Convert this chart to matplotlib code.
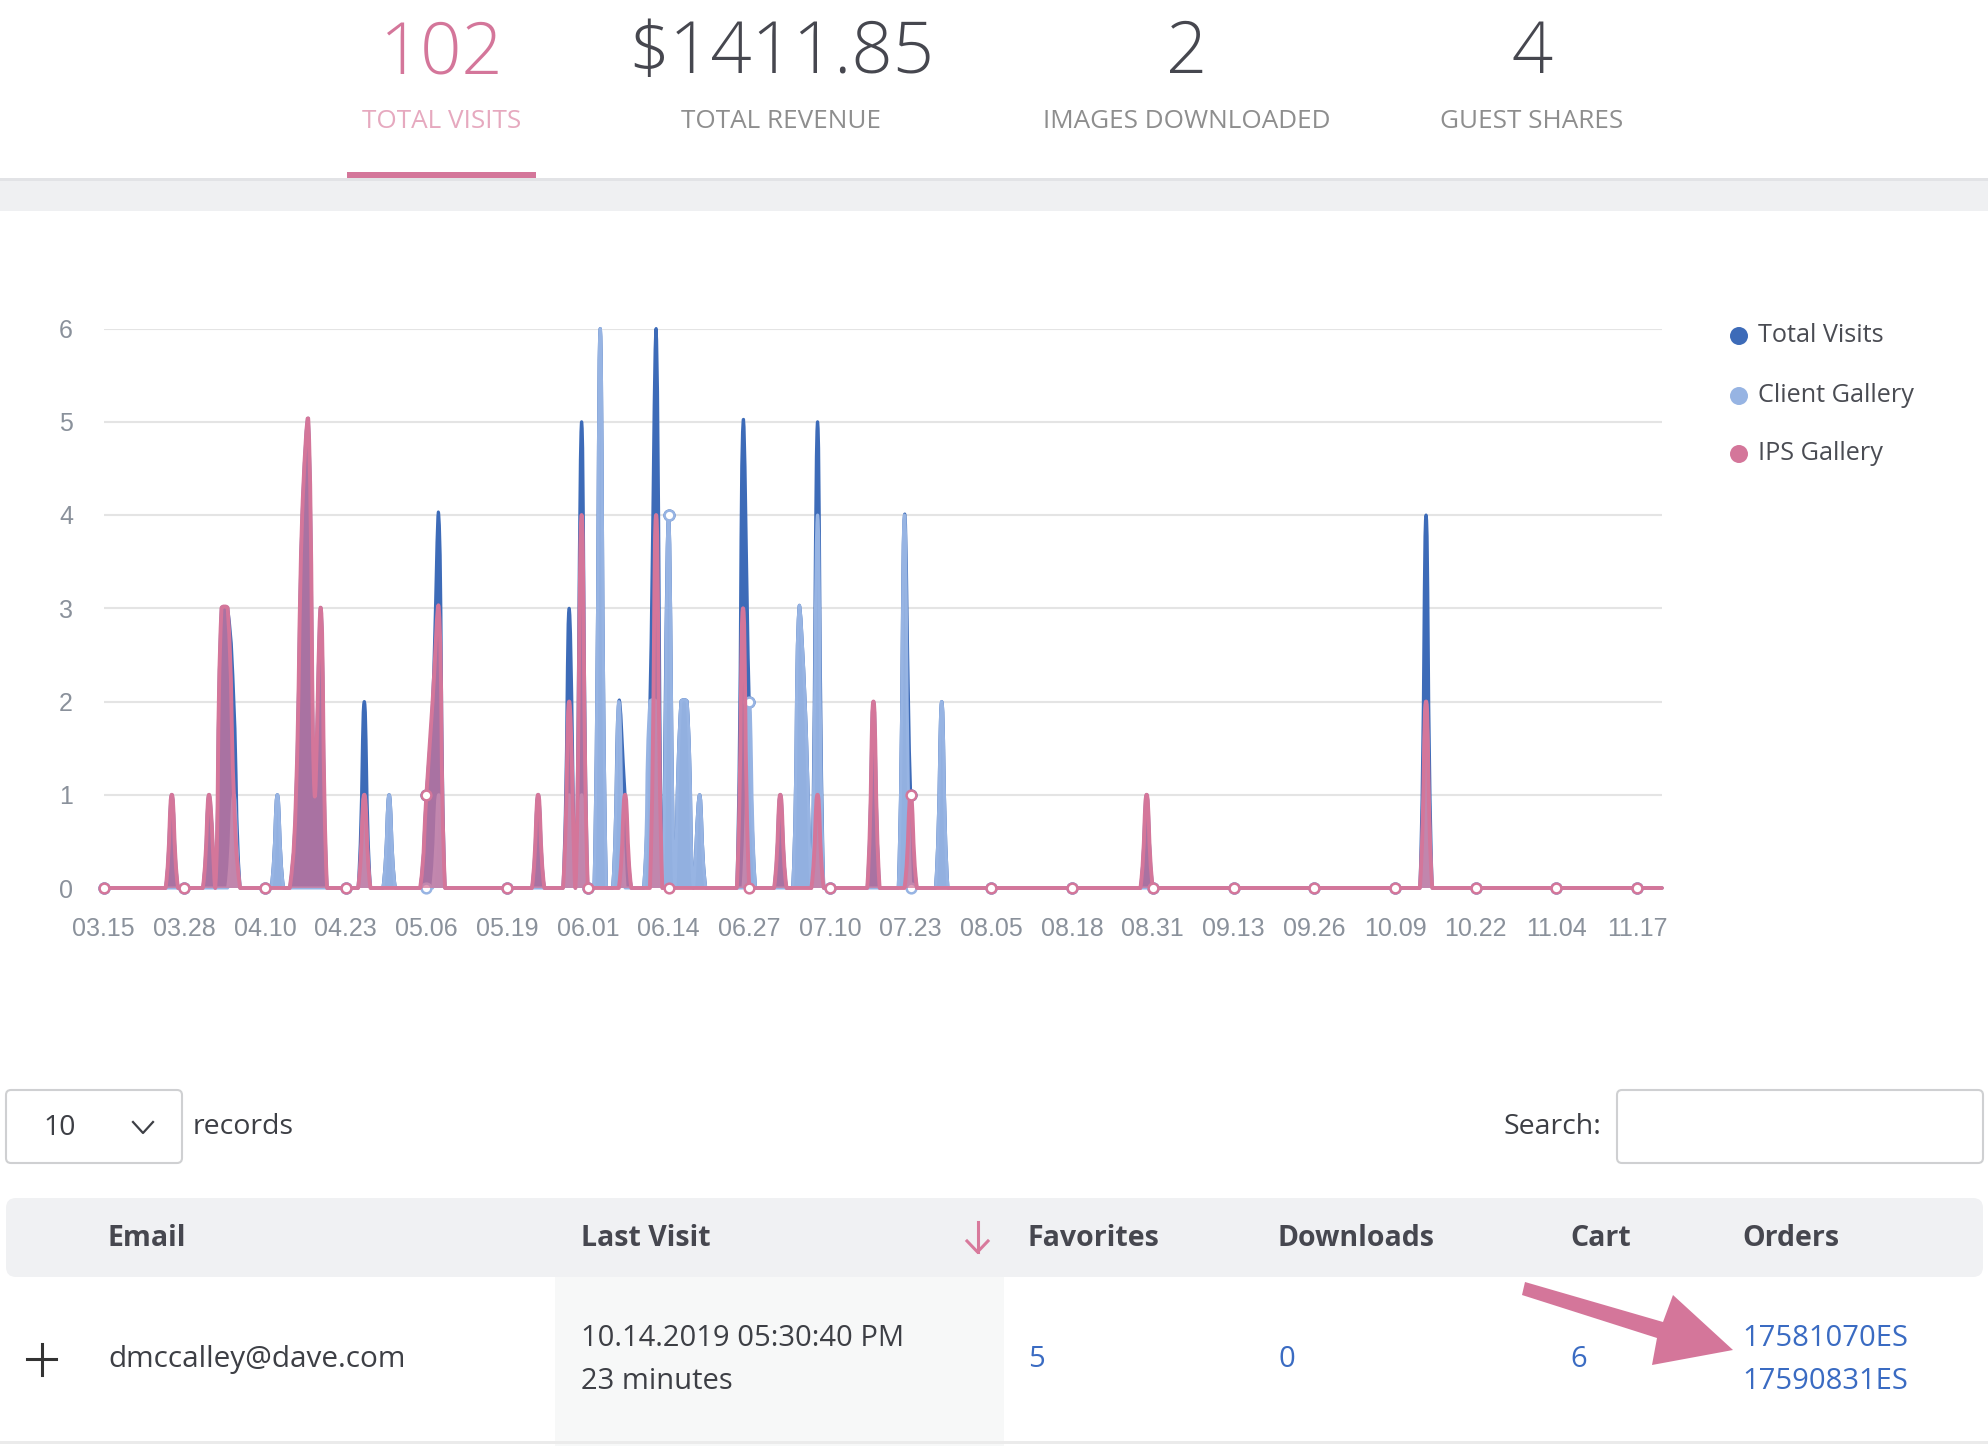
import numpy as np
import pandas as pd
import matplotlib
matplotlib.use('Agg')
import matplotlib.pyplot as plt
from matplotlib.path import Path
from matplotlib.patches import PathPatch, Rectangle, FancyBboxPatch, Polygon, Circle

# --- data (daily visits, only non-zero days listed) ---
start_date = '03.15'
end_date = '11.21'

total_dates = ['03.26', '04.01', '04.03', '04.04', '04.05', '04.12', '04.15', '04.16',
               '04.17', '04.18', '04.19', '04.26', '04.30', '05.06', '05.07', '05.08',
               '05.24', '05.29', '05.31', '06.03', '06.06', '06.07', '06.11', '06.12',
               '06.14', '06.16', '06.17', '06.19', '06.26', '06.27', '07.02', '07.05',
               '07.06', '07.08', '07.17', '07.22', '07.23', '07.28', '08.30', '10.14']
total_vals = [1, 1, 3, 3, 2, 1, 1, 4,
              5, 1, 3, 2, 1, 1, 2, 4,
              1, 3, 5, 6, 2, 1, 2, 6,
              4, 2, 2, 1, 5, 2, 1, 3,
              2, 5, 2, 4, 1, 2, 1, 4]

client_dates = ['04.05', '04.12', '04.26', '04.30', '05.08', '05.29', '05.31', '06.03',
                '06.06', '06.11', '06.12', '06.14', '06.16', '06.17', '06.19', '06.27',
                '07.05', '07.06', '07.08', '07.22', '07.28', '10.14']
client_vals = [1, 1, 1, 1, 1, 1, 1, 6,
               2, 2, 2, 4, 2, 2, 1, 2,
               3, 2, 4, 4, 2, 2]

ips_dates = ['03.26', '04.01', '04.03', '04.04', '04.05', '04.15', '04.16', '04.17',
             '04.18', '04.19', '04.26', '05.06', '05.07', '05.08', '05.24', '05.29',
             '05.31', '06.07', '06.12', '06.26', '07.02', '07.08', '07.17', '07.23',
             '08.30', '10.14']
ips_vals = [1, 1, 3, 3, 1, 1, 4, 5,
            1, 3, 1, 1, 2, 3, 1, 2,
            4, 1, 4, 3, 1, 1, 2, 1,
            1, 2]

tick_labels = ['03.15', '03.28', '04.10', '04.23', '05.06', '05.19', '06.01', '06.14',
               '06.27', '07.10', '07.23', '08.05', '08.18', '08.31', '09.13', '09.26',
               '10.09', '10.22', '11.04', '11.17']

series_names = ['Total Visits', 'Client Gallery', 'IPS Gallery']
series_colors = ['#3d6bb8', '#97b4e3', '#d4769a']

kpi_values = ['102', '$1411.85', '2', '4']
kpi_labels = ['TOTAL VISITS', 'TOTAL REVENUE', 'IMAGES DOWNLOADED', 'GUEST SHARES']

table_cols = ['Email', 'Last Visit', 'Favorites', 'Downloads', 'Cart', 'Orders']
row_email = 'dmccalley@dave.com'
row_visit = ['10.14.2019 05:30:40 PM', '23 minutes']
row_favorites = '5'
row_downloads = '0'
row_cart = '6'
row_orders = ['17581070ES', '17590831ES']


def to_day(s):
    return (pd.to_datetime('2019.' + s, format='%Y.%m.%d')
            - pd.to_datetime('2019.' + start_date, format='%Y.%m.%d')).days


n_days = to_day(end_date) + 1


def daily(dates, vals):
    arr = np.zeros(n_days)
    for d, v in zip(dates, vals):
        arr[to_day(d)] = v
    return arr


series = [daily(total_dates, total_vals),
          daily(client_dates, client_vals),
          daily(ips_dates, ips_vals)]


def spline_path(x, y, sx, sy, ymax, tension=0.4):
    # bezier control points the way Chart.js computes them (pixel space)
    px, py = x * sx, y * sy
    n = len(px)
    cp_prev = np.zeros((n, 2))
    cp_next = np.zeros((n, 2))
    for i in range(n):
        a, b = max(i - 1, 0), min(i + 1, n - 1)
        d01 = np.hypot(px[i] - px[a], py[i] - py[a])
        d12 = np.hypot(px[b] - px[i], py[b] - py[i])
        tot = d01 + d12
        s01 = d01 / tot if tot else 0.0
        s12 = d12 / tot if tot else 0.0
        dx, dy = px[b] - px[a], py[b] - py[a]
        cp_prev[i] = (px[i] - tension * s01 * dx, py[i] - tension * s01 * dy)
        cp_next[i] = (px[i] + tension * s12 * dx, py[i] + tension * s12 * dy)
    cp_prev /= (sx, sy)
    cp_next /= (sx, sy)
    cp_prev[:, 1] = np.clip(cp_prev[:, 1], 0, ymax)
    cp_next[:, 1] = np.clip(cp_next[:, 1], 0, ymax)
    verts = [(x[0], y[0])]
    codes = [Path.MOVETO]
    for i in range(n - 1):
        verts += [tuple(cp_next[i]), tuple(cp_prev[i + 1]), (x[i + 1], y[i + 1])]
        codes += [Path.CURVE4] * 3
    return verts, codes


W, H = 1988, 1446
fig = plt.figure(figsize=(W / 100, H / 100), dpi=100)

# overlay in pixel coordinates for the page elements
ov = fig.add_axes([0, 0, 1, 1])
ov.set_xlim(0, W)
ov.set_ylim(H, 0)
ov.axis('off')

FONT = 'Open Sans'
DARK = '#46474f'
TXT = '#3d3f45'
BLUE = '#3a6bc2'
PINK = '#d4769a'

# KPI header
kpi_x = [442, 781, 1187, 1532]
for i, (v, lab) in enumerate(zip(kpi_values, kpi_labels)):
    ov.text(kpi_x[i], 73, v, ha='center', va='baseline', fontsize=52, family=FONT,
            fontweight='light', color=PINK if i == 0 else DARK)
    ov.text(kpi_x[i], 128, lab, ha='center', va='baseline', fontsize=18.8, family=FONT,
            color='#e6a9bf' if i == 0 else '#8e8e8e')
ov.add_patch(Rectangle((0, 179), W, 32, color='#eff0f2', lw=0))
ov.add_patch(Rectangle((0, 178), W, 3, color='#e2e3e6', lw=0))
ov.add_patch(Rectangle((347, 172), 189, 6, color=PINK, lw=0))

# legend
leg_y = [336, 396, 454]
for name, c, y in zip(series_names, series_colors, leg_y):
    ov.add_patch(Circle((1739, y), 9, color=c, lw=0))
    ov.text(1758, y, name, ha='left', va='center', fontsize=18.2, family=FONT, color='#4a4c53')

# records / search row
ov.add_patch(FancyBboxPatch((6, 1090), 176, 73, boxstyle='round,pad=0,rounding_size=5',
                            fc='white', ec='#cfd0d2', lw=1.5))
ov.text(60, 1135, '10', ha='center', va='baseline', fontsize=20.5, family=FONT, color=TXT)
ov.plot([133, 143, 153], [1122, 1133, 1122], color=TXT, lw=1.6)
ov.text(193, 1134, 'records', ha='left', va='baseline', fontsize=20.5, family=FONT, color=TXT)
ov.text(1601, 1134, 'Search:', ha='right', va='baseline', fontsize=20.5, family=FONT, color=TXT)
ov.add_patch(FancyBboxPatch((1617, 1090), 366, 73, boxstyle='round,pad=0,rounding_size=5',
                            fc='white', ec='#cfd0d2', lw=1.5))

# table header
ov.add_patch(FancyBboxPatch((6, 1198), 1977, 79, boxstyle='round,pad=0,rounding_size=10',
                            fc='#f0f1f3', ec='none'))
col_x = [108, 581, 1028, 1278, 1570, 1742]
for cx, name in zip(col_x, table_cols):
    ov.text(cx, 1246, name, ha='left', va='baseline', fontsize=20.5, family=FONT,
            fontweight='bold', color=DARK)
ov.plot([977.5, 977.5], [1222, 1252], color='#d87a9c', lw=2.2)
ov.plot([967, 977.5, 988], [1241, 1252, 1241], color='#d87a9c', lw=2.2)

# data row
ov.add_patch(Rectangle((555, 1277), 449, 169, color='#f7f8f8', lw=0))
ov.add_patch(Rectangle((0, 1441), W, 3, color='#ebebeb', lw=0))
ov.plot([27, 56], [1359, 1359], color='#333333', lw=2.2)
ov.plot([41.5, 41.5], [1344, 1375], color='#333333', lw=2.2)
ov.text(108, 1367, row_email, ha='left', va='baseline', fontsize=21.4, family=FONT, color=TXT)
ov.text(581, 1346, row_visit[0], ha='left', va='baseline', fontsize=21, family=FONT, color=TXT)
ov.text(581, 1389, row_visit[1], ha='left', va='baseline', fontsize=21, family=FONT, color=TXT)
ov.text(1028, 1367, row_favorites, ha='left', va='baseline', fontsize=21, family=FONT, color=BLUE)
ov.text(1278, 1367, row_downloads, ha='left', va='baseline', fontsize=21, family=FONT, color=BLUE)
ov.text(1570, 1367, row_cart, ha='left', va='baseline', fontsize=21, family=FONT, color=BLUE)
ov.text(1742, 1346, row_orders[0], ha='left', va='baseline', fontsize=21, family=FONT, color=BLUE)
ov.text(1742, 1389, row_orders[1], ha='left', va='baseline', fontsize=21, family=FONT, color=BLUE)

# annotation arrow
ov.add_patch(Polygon([(1525, 1282), (1663, 1322), (1673, 1295), (1733, 1350),
                      (1652, 1365), (1657, 1338), (1522, 1295)],
                     closed=True, fc=PINK, ec='none'))

# --- chart ---
x0_px, x1_px = 103.5, 1662.0
y6_px, y0_px = 328.5, 888.0
x_max = n_days - 1
ax = fig.add_axes([x0_px / W, (H - y0_px) / H, (x1_px - x0_px) / W, (y0_px - y6_px) / H])
ax.set_xlim(0, x_max)
ax.set_ylim(0, 6)
ax.patch.set_alpha(0)
for s in ax.spines.values():
    s.set_visible(False)
ax.set_yticks(range(7))
tick_days = np.array([to_day(t) for t in tick_labels])
ax.set_xticks(tick_days)
ax.set_xticklabels(tick_labels)
ax.tick_params(length=0, labelsize=18, labelcolor='#8a919b')
ax.tick_params(axis='x', pad=21)
ax.tick_params(axis='y', pad=22)
for lab in ax.get_xticklabels() + ax.get_yticklabels():
    lab.set_family('Liberation Sans')
ax.grid(axis='y', color='#e4e4e4', lw=1.5)
ax.set_axisbelow(True)

sx = (x1_px - x0_px) / x_max
sy = (y0_px - y6_px) / 6
days = np.arange(n_days, dtype=float)
fill_alpha = [1.0, 0.95, 0.72]
line_w = [2.2, 2.2, 2.8]
for k, (vals, c) in enumerate(zip(series, series_colors)):
    verts, codes = spline_path(days, vals, sx, sy, 6)
    fverts = verts + [(days[-1], 0), (days[0], 0), (days[0], 0)]
    fcodes = codes + [Path.LINETO, Path.LINETO, Path.CLOSEPOLY]
    ax.add_patch(PathPatch(Path(fverts, fcodes), fc=c, ec='none', alpha=fill_alpha[k],
                           zorder=3 + 3 * k))
    ax.add_patch(PathPatch(Path(verts, codes), fill=False, ec=c, lw=line_w[k],
                           zorder=4 + 3 * k, clip_on=False, capstyle='round', joinstyle='round'))
    ax.plot(tick_days, vals[tick_days], 'o', ms=7, mfc='white', mec=c, mew=1.8,
            zorder=5 + 3 * k, clip_on=False)

fig.savefig('out.png', dpi=100)
